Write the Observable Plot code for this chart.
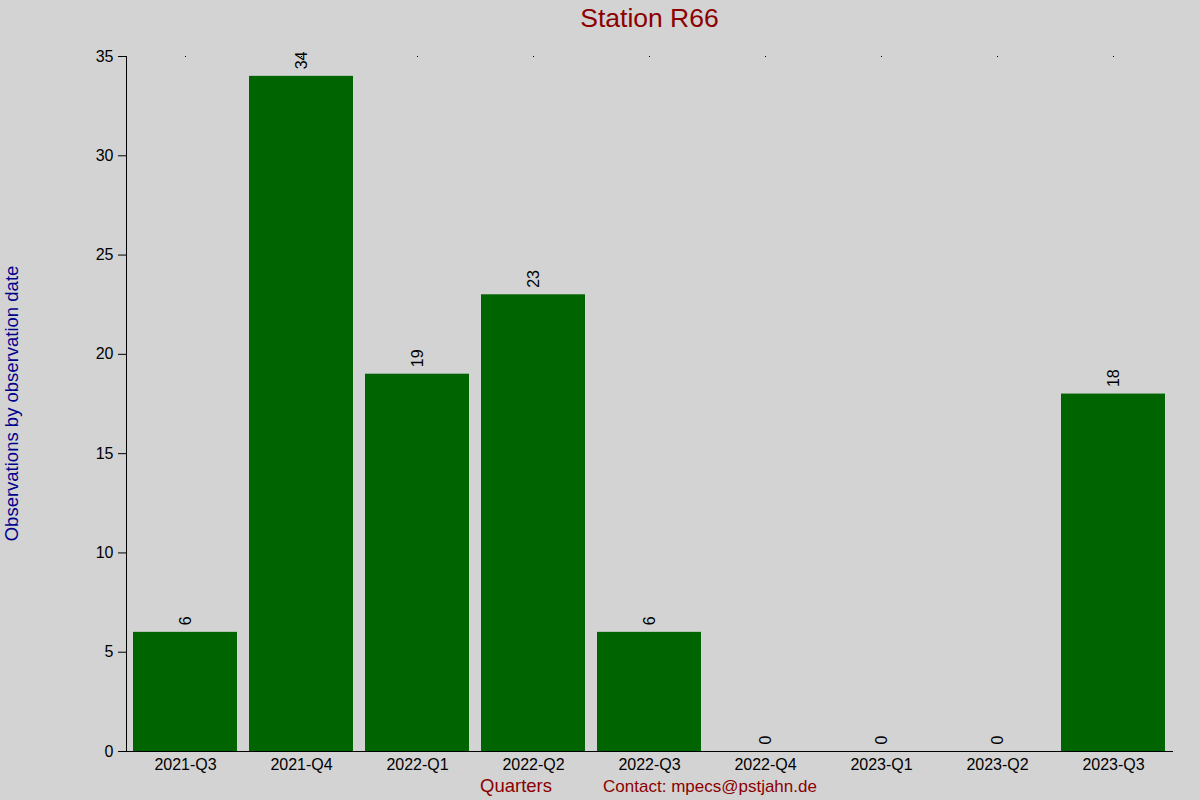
<!DOCTYPE html>
<html><head><meta charset="utf-8">
<script src="https://cdn.jsdelivr.net/npm/d3@7"></script>
<script src="https://cdn.jsdelivr.net/npm/@observablehq/plot@0.6"></script>
<style>
html,body{margin:0;padding:0;background:#d3d3d3;}
svg{display:block;}
</style></head>
<body>
<div id="chart"></div>
<script>
const quarters = ["2021-Q3","2021-Q4","2022-Q1","2022-Q2","2022-Q3","2022-Q4","2023-Q1","2023-Q2","2023-Q3"];
const counts = [6, 34, 19, 23, 6, 0, 0, 0, 18];
const yTicks = [0, 5, 10, 15, 20, 25, 30, 35];
const title = "Station R66";
const yLabel = "Observations by observation date";
const xLabel = "Quarters";
const contact = "Contact: mpecs@pstjahn.de";

const data = quarters.map((q, i) => ({quarter: q, count: counts[i]}));
const font = "'Liberation Sans', Arial, sans-serif";

const W = 1200, H = 800;
const mL = 126, mR = 27, mT = 56, mB = 49;

const chart = Plot.plot({
  width: W, height: H,
  marginLeft: mL, marginRight: mR, marginTop: mT, marginBottom: mB,
  style: {background: "#d3d3d3", fontFamily: font, fontSize: "16px", color: "#000"},
  x: {domain: quarters, paddingInner: 0.1, paddingOuter: 0.05, label: null},
  y: {domain: [0, 35], label: null},
  marks: [
    Plot.barY(data, {x: "quarter", y: "count", fill: "#006400"}),
    Plot.axisY({ticks: yTicks, tickSize: 8, tickPadding: 5, label: null, fontSize: 16}),
    Plot.axisX({tickSize: 0, tickPadding: 7, label: null, fontSize: 16}),
    Plot.axisX({anchor: "top", tickSize: 1, tickFormat: () => "", label: null}),
    Plot.frame({anchor: "left", stroke: "#000"}),
    Plot.ruleY([0], {stroke: "#000", insetLeft: -8}),
    Plot.text(data, {x: "quarter", y: "count", text: d => String(d.count), rotate: -90, textAnchor: "start", lineAnchor: "middle", dy: -7, fontSize: 16, fill: "#000"})
  ]
});

const svg = d3.select(chart);
const cx = mL + (W - mL - mR) / 2;
svg.append("text").attr("x", cx).attr("y", 27).attr("text-anchor", "middle")
  .attr("font-family", font).attr("font-size", 26.5).attr("fill", "#8b0000").text(title);
svg.append("text").attr("transform", `translate(18,${mT + (H - mT - mB) / 2}) rotate(-90)`)
  .attr("text-anchor", "middle").attr("font-family", font).attr("font-size", 18.5).attr("fill", "#00008b").text(yLabel);
svg.append("text").attr("x", 516).attr("y", 792).attr("text-anchor", "middle")
  .attr("font-family", font).attr("font-size", 18.5).attr("fill", "#8b0000").text(xLabel);
svg.append("text").attr("x", 710).attr("y", 792).attr("text-anchor", "middle")
  .attr("font-family", font).attr("font-size", 17).attr("fill", "#8b0000").text(contact);

document.getElementById("chart").append(chart);
</script>
</body></html>
